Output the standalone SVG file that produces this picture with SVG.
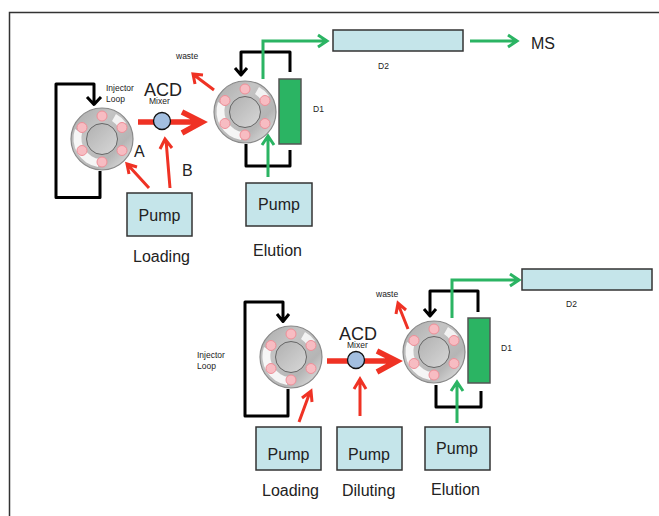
<svg xmlns="http://www.w3.org/2000/svg" width="659" height="516" viewBox="0 0 659 516">
<style>
text{font-family:"Liberation Sans",Arial,sans-serif;fill:#222}
.big{font-size:18px}.lab{font-size:16px}.sm{font-size:8.5px}.pump{fill:#c5e5ea;stroke:#333;stroke-width:1.5}
.k{fill:none;stroke:#000;stroke-width:3;stroke-linejoin:round}
.g{fill:none;stroke:#2bb463;stroke-width:3}
.r{fill:none;stroke:#ef3224;stroke-width:3}
.R{fill:none;stroke:#ef3224;stroke-width:5.5}
.col{fill:#2bb463;stroke:#555;stroke-width:1.5}
.mix{fill:#a3bfe0;stroke:#111;stroke-width:1.3}
.port{fill:#f7bcc2;stroke:#ee8f98;stroke-width:1}
</style>
<defs>
<linearGradient id="ring" x1="0" y1="0" x2="1" y2="1"><stop offset="0" stop-color="#a8a8a8"/><stop offset=".35" stop-color="#c4c4c4"/><stop offset=".7" stop-color="#b5b5b5"/><stop offset="1" stop-color="#ececec"/></linearGradient>
<linearGradient id="hub" x1="0" y1="0" x2="1" y2="1"><stop offset="0" stop-color="#b0b0b0"/><stop offset="1" stop-color="#d8d8d8"/></linearGradient>
<g id="valve">
<circle r="31" fill="url(#ring)" stroke="#8a8a8a" stroke-width="1.2"/>
<path d="M-27 -10A29 29 0 0 0 -4 28L-2 20A21 21 0 0 1 -20 -6Z" fill="#fff" opacity=".85"/>
<path d="M14 -25A29 29 0 0 1 24 -16L16 -12A21 21 0 0 0 10 -18Z" fill="#fff" opacity=".8"/>
<circle r="15.5" fill="url(#hub)" stroke="#666" stroke-width="1"/>
<circle cx="0" cy="-23" r="5" class="port"/><circle cx="20" cy="-11.500" r="5" class="port"/><circle cx="20" cy="11.500" r="5" class="port"/><circle cx="0" cy="23" r="5" class="port"/><circle cx="-20" cy="11.500" r="5" class="port"/><circle cx="-20" cy="-11.500" r="5" class="port"/>
</g>
</defs>
<rect width="659" height="516" fill="#fff"/>
<path d="M9.500 516V12.500H659" fill="none" stroke="#333" stroke-width="1.5"/>
<g id="connectors">
<path class="k" d="M100 171V197.500H56V84H94V104M87 97L94 104.500L101 97"/>
<path class="k" d="M290 44"/>
<path class="k" d="M290 52"/>
<path class="k" d="M290 52" />
<path class="k" d="M290 72V52H241V74M235 68L241 75L247 68"/>
<path class="k" d="M246 144V166H290V150"/>
<path class="g" d="M263 79V41H326M318 35L327 41L318 47"/>
<path class="g" d="M268 177V136M262 145L268 136L274 145"/>
<path class="g" d="M470 41H516M508 35L517 41L508 47"/>
<path class="k" d="M288 389V416H245V302H283V321M277 314L283 321.500L289 314"/>
<path class="k" d="M478 312V291H430V315M424 309L430 316L436 309"/>
<path class="k" d="M436 385V407H481V391"/>
<path class="g" d="M452 318V280H518M510 274L519 280L510 286"/>
<path class="g" d="M457 423V382M451 391L457 382L463 391"/>
<path class="R" d="M138 122H200M182 112L202 122L182 133"/>
<path class="r" d="M214 90L194 75M195 84L193 74L203 75"/>
<path class="r" d="M149 188L128 165M129 174L127 164L137 167"/>
<path class="r" d="M170 188L166 140M160 149L165 139L172 148"/>
<path class="R" d="M327 361H395M377 351L397 361L377 372"/>
<path class="r" d="M299 422L310 392M302 398L311 391L312 402"/>
<path class="r" d="M360 416V380M354 389L360 379L366 389"/>
<path class="r" d="M408 329L398 304M396 314L398 303L406 310"/>
</g>
<g id="injector-valve-1"><use href="#valve" x="102" y="139"/></g>
<g id="column-valve-1"><use href="#valve" x="245" y="112"/></g>
<g id="injector-valve-2"><use href="#valve" x="291" y="357"/></g>
<g id="column-valve-2"><use href="#valve" x="434" y="352"/></g>
<g id="mixer-1"><circle class="mix" cx="162" cy="121" r="8.500"/></g>
<g id="mixer-2"><circle class="mix" cx="356" cy="360" r="8.500"/></g>
<g id="d1-top"><rect class="col" x="279" y="79" width="22" height="65"/></g>
<g id="d1-bottom"><rect class="col" x="468" y="318" width="22" height="65"/></g>
<g id="d2-top"><rect class="pump" x="333" y="30" width="130" height="21"/></g>
<g id="d2-bottom"><rect class="pump" x="522" y="269" width="130" height="21"/></g>
<g id="pump-loading-1"><rect class="pump" x="127" y="193" width="65" height="43"/><text class="lab" x="159.500" y="221" text-anchor="middle">Pump</text></g>
<g id="pump-elution-1"><rect class="pump" x="246" y="183" width="66" height="43"/><text class="lab" x="279" y="210" text-anchor="middle">Pump</text></g>
<g id="pump-loading-2"><rect class="pump" x="256" y="427" width="65" height="43"/><text class="lab" x="288.500" y="460" text-anchor="middle">Pump</text></g>
<g id="pump-diluting"><rect class="pump" x="337" y="427" width="65" height="43"/><text class="lab" x="369" y="460" text-anchor="middle">Pump</text></g>
<g id="pump-elution-2"><rect class="pump" x="425" y="427" width="65" height="43"/><text class="lab" x="457" y="454" text-anchor="middle">Pump</text></g>
<g id="labels">
<text class="sm" x="106" y="91">Injector</text><text class="sm" x="106" y="102">Loop</text>
<text class="big" x="144" y="96">ACD</text><text class="sm" x="149" y="104">Mixer</text>
<text class="lab" x="134" y="157">A</text><text class="lab" x="182" y="176">B</text>
<text class="sm" x="176" y="59">waste</text>
<text class="sm" x="313" y="112">D1</text><text class="sm" x="378" y="69">D2</text>
<text class="lab" x="531" y="49">MS</text>
<text class="lab" x="133" y="262">Loading</text><text class="lab" x="253" y="256">Elution</text>
<text class="sm" x="197" y="358">Injector</text><text class="sm" x="197" y="369">Loop</text>
<text class="big" x="339" y="340">ACD</text><text class="sm" x="347" y="348">Mixer</text>
<text class="sm" x="376" y="297">waste</text>
<text class="sm" x="501" y="351">D1</text><text class="sm" x="566" y="307">D2</text>
<text class="lab" x="262" y="496">Loading</text><text class="lab" x="342" y="496">Diluting</text><text class="lab" x="431" y="495">Elution</text>
</g>
</svg>
